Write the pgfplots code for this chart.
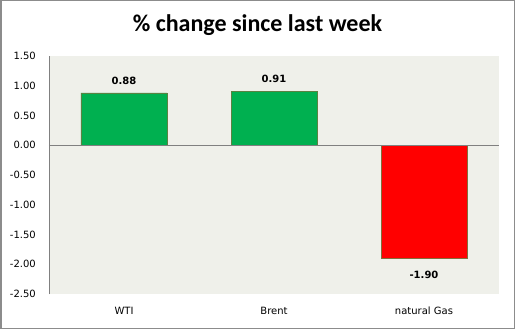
\documentclass[border=0pt]{standalone}
\usepackage{pgfplots}
\pgfplotsset{compat=1.18}
\usepackage{fontspec}
\setmainfont{DejaVu Sans}
\newfontfamily\titlefont{Carlito}
\definecolor{bgc}{RGB}{239,240,234}
\definecolor{barg}{RGB}{0,176,80}
\definecolor{barr}{RGB}{255,0,0}
\definecolor{edgec}{RGB}{130,110,60}
\definecolor{framec}{RGB}{140,140,140}
\begin{document}
\begin{tikzpicture}
\useasboundingbox (0,0) rectangle (515bp,329bp);
\fill[white] (0,0) rectangle (515bp,329bp);
\draw[framec, line width=1.5bp] (0.75bp,0.75bp) rectangle (514.25bp,328.25bp);
\node[font=\titlefont\bfseries\fontsize{24bp}{26bp}\selectfont] at (257.5bp,303.5bp) {\% change since last week};
\begin{axis}[
  at={(49bp,35bp)}, anchor=south west,
  scale only axis, width=450bp, height=238bp,
  xmin=-0.5, xmax=2.5, ymin=-2.5, ymax=1.5,
  ytick={-2.5,-2,-1.5,-1,-0.5,0,0.5,1,1.5},
  xtick=\empty,
  axis background/.style={fill=bgc},
  axis x line=none,
  axis y line*=left,
  y axis line style={-,draw=gray},
  major tick length=0pt,
  /pgf/number format/assume math mode=true,
  yticklabel={\pgfmathprintnumber[fixed,fixed zerofill,precision=2]{\tick}},
  yticklabel style={font=\fontsize{10bp}{12bp}\selectfont, anchor=east, inner sep=0pt, xshift=-13bp},
  ybar, bar width=86bp, bar shift=0pt,
  nodes near coords={\pgfmathprintnumber[fixed,fixed zerofill,precision=2]{\pgfplotspointmeta}},
  every node near coord/.append style={font=\bfseries\fontsize{10bp}{12bp}\selectfont, inner sep=0pt},
  clip=false,
]
\addplot[fill=barg, draw=edgec!70!barg, line width=0.75bp,
  every node near coord/.append style={yshift=8bp}] coordinates {(0,0.88) (1,0.91)};
\addplot[fill=barr, draw=edgec, line width=0.75bp,
  every node near coord/.append style={yshift=-12bp}] coordinates {(2,-1.90)};
\draw[gray, line width=0.75bp] (axis cs:-0.5,0) -- (axis cs:2.5,0);
\draw[gray, line width=0.75bp] (axis cs:-0.5,-2.5) -- (axis cs:-0.5,1.5);
\node[font=\fontsize{10bp}{12bp}\selectfont, yshift=-17bp] at (axis cs:0,-2.5) {WTI};
\node[font=\fontsize{10bp}{12bp}\selectfont, yshift=-17bp] at (axis cs:1,-2.5) {Brent};
\node[font=\fontsize{10bp}{12bp}\selectfont, yshift=-17bp] at (axis cs:2,-2.5) {natural Gas};
\end{axis}
\end{tikzpicture}
\end{document}
